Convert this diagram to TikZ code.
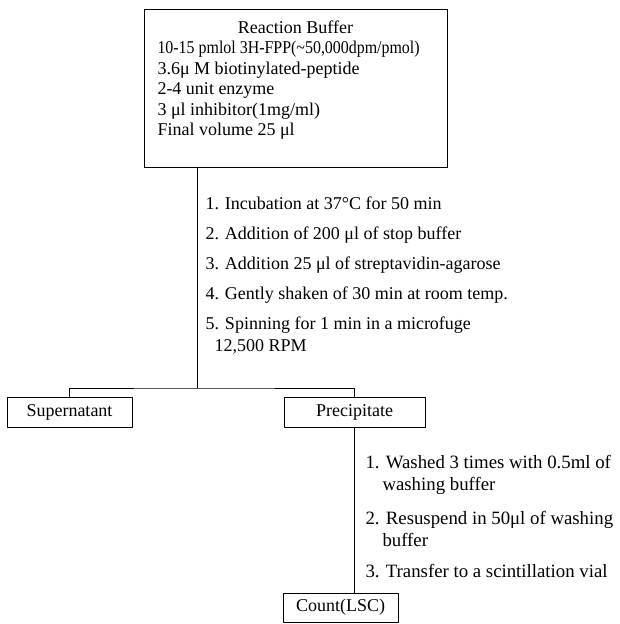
\documentclass[tikz,border=0pt]{standalone}
\usepackage{fontspec}
\usepackage{graphicx}
\setmainfont{Liberation Serif}
\begin{document}
\begin{tikzpicture}[x=1pt, y=-1pt, line width=1pt, line join=round,
  font=\fontsize{18}{20.4}\selectfont,
  box/.style={draw, inner sep=0pt},
  steps/.style={align=left, inner sep=0pt, anchor=base west, font=\fontsize{18}{22}\selectfont}]
\useasboundingbox (0,0) rectangle (620,624);
\path
 (197,388) coordinate (split);
\node[box, minimum width=303pt, minimum height=158pt] (buffer) at (295.5,88) {};
\node[anchor=base, inner sep=0pt] (title) at (295.5,33) {Reaction Buffer};
% base of a multi-line node = its last line
\node[align=left, anchor=base west, inner sep=0pt] (recipe) at (157,135.5) {\scalebox{0.885}[1]{10-15 pmlol 3H-FPP(\textasciitilde50,000dpm/pmol)}\\
  3.6μ M biotinylated-peptide\\
  2-4 unit enzyme\\
  3 μl inhibitor(1mg/ml)\\
  Final volume 25 μl};
\node[steps] (reaction) at (205,351) {1. Incubation at 37°C for 50 min\\[8pt]
  2. Addition of 200 μl of stop buffer\\[8pt]
  3. Addition 25 μl of streptavidin-agarose\\[8pt]
  4. Gently shaken of 30 min at room temp.\\[8pt]
  5. Spinning for 1 min in a microfuge\\
  \hspace*{9pt}12,500 RPM};
\node[box, minimum width=125pt, minimum height=30pt] (super) at (69.5,412) {Supernatant};
\node[box, minimum width=141pt, minimum height=30pt] (prec) at (354.5,412) {Precipitate};
\node[steps, font=\fontsize{18.8}{22}\selectfont] (washing) at (365,577) {1. Washed 3 times with 0.5ml of\\
  \hspace*{17pt}washing buffer\\[12pt]
  2. Resuspend in 50μl of washing\\
  \hspace*{17pt}buffer\\[9pt]
  3. Transfer to a scintillation vial};
\node[box, minimum width=115pt, minimum height=29pt] (count) at (340.5,607.5) {Count(LSC)};
\draw (buffer.south -| split) -- (split);
\draw (super) |- (split) -| (prec);
\draw (prec.south) -- (prec.south |- count.north);
\end{tikzpicture}
\end{document}
